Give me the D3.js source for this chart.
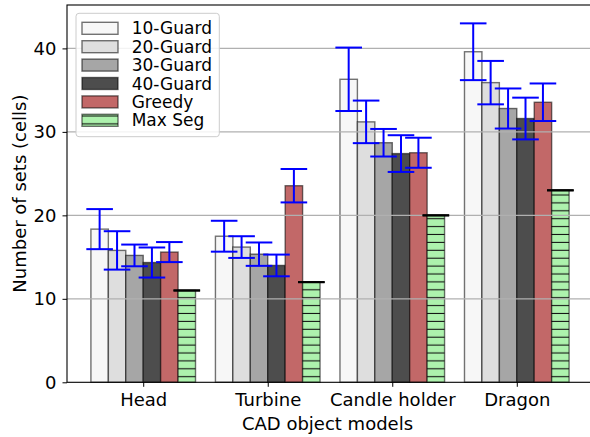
<!DOCTYPE html>
<html><head><meta charset="utf-8">
<script src="https://cdn.jsdelivr.net/npm/d3@7"></script>
<style>body{margin:0;background:#fff}svg{display:block;font-family:"DejaVu Sans",sans-serif}svg text{font-family:"DejaVu Sans",sans-serif}</style>
</head><body>
<svg id="c" width="590" height="437"></svg>
<script>
const categories = ["Head", "Turbine", "Candle holder", "Dragon"];
const seriesNames = ["10-Guard", "20-Guard", "30-Guard", "40-Guard", "Greedy", "Max Seg"];
const guard10 = [18.35, 17.5, 36.3, 39.6];
const guard20 = [15.8, 16.2, 31.2, 35.9];
const guard30 = [15.2, 15.35, 28.7, 32.8];
const guard40 = [14.35, 14.0, 27.4, 31.6];
const greedy = [15.6, 23.55, 27.5, 33.55];
const maxSeg = [11, 12, 20, 23];
const err10 = [2.4, 1.85, 3.8, 3.4];
const err20 = [2.3, 1.3, 2.55, 2.6];
const err30 = [1.3, 1.4, 1.65, 2.4];
const err40 = [1.8, 1.3, 2.2, 2.5];
const errGreedy = [1.2, 2.0, 1.8, 2.25];
const errMaxSeg = [0, 0, 0, 0];
const yTicks = [0, 10, 20, 30, 40];

const values = [guard10, guard20, guard30, guard40, greedy, maxSeg];
const errors = [err10, err20, err30, err40, errGreedy, errMaxSeg];
const fills = ["#f7f7f7", "#dedede", "#a6a6a6", "#4d4d4d", "#c26868", "#adf2ad"];
const errColors = ["#0000ff", "#0000ff", "#0000ff", "#0000ff", "#0000ff", "#000000"];
const barW = 0.14;
const FONT = "DejaVu Sans, sans-serif";

const svg = d3.select("#c");
const L = 67, R = 593, T = 5, B = 382.3;
const x = d3.scaleLinear().domain([-0.612, 3.612]).range([L, R]);
const y = d3.scaleLinear().domain([0, 45.2]).range([B, T]);

// hatch pattern
const defs = svg.append("defs");
const pat = defs.append("pattern").attr("id", "hatch").attr("patternUnits", "userSpaceOnUse")
  .attr("width", 10).attr("height", 7.9);
pat.append("rect").attr("width", 10).attr("height", 7.9).attr("fill", fills[5]);
pat.append("line").attr("x1", 0).attr("x2", 10).attr("y1", 5.4).attr("y2", 5.4)
  .attr("stroke", "#111").attr("stroke-width", 1.1);

// bars
const data = [];
seriesNames.forEach((s, i) => categories.forEach((c, j) => {
  data.push({s: i, c: j, v: values[i][j], e: errors[i][j]});
}));

svg.append("g").selectAll("rect").data(data).join("rect")
  .attr("x", d => x(d.c + (d.s - 3) * barW))
  .attr("width", d => x(barW) - x(0))
  .attr("y", d => y(d.v))
  .attr("height", d => y(0) - y(d.v))
  .attr("fill", d => d.s === 5 ? "url(#hatch)" : fills[d.s])
  .attr("stroke", "rgba(0,0,0,0.55)")
  .attr("stroke-width", 1.4);

// grid on top of bars
svg.append("g").selectAll("line").data(yTicks.slice(1)).join("line")
  .attr("x1", L).attr("x2", R).attr("y1", d => y(d)).attr("y2", d => y(d))
  .attr("stroke", "#b0b0b0").attr("stroke-width", 1.1);

// error bars
const eg = svg.append("g");
data.forEach(d => {
  const cx = x(d.c + (d.s - 2.5) * barW);
  const col = errColors[d.s];
  const capHalf = 13.3;
  if (d.e > 0) {
    eg.append("line").attr("x1", cx).attr("x2", cx).attr("y1", y(d.v - d.e)).attr("y2", y(d.v + d.e))
      .attr("stroke", col).attr("stroke-width", 2);
  }
  [d.v - d.e, d.v + d.e].forEach(v => {
    eg.append("line").attr("x1", cx - capHalf).attr("x2", cx + capHalf).attr("y1", y(v)).attr("y2", y(v))
      .attr("stroke", col).attr("stroke-width", 2);
  });
});

// axes
const xAxis = d3.axisBottom(x).tickValues([0, 1, 2, 3]).tickFormat(i => categories[i]).tickSize(4.5).tickPadding(6);
const gx = svg.append("g").attr("transform", `translate(0,${B})`).call(xAxis)
  .attr("font-family", FONT).attr("font-size", 18);
gx.select(".domain").remove();
gx.selectAll("text").attr("font-size", 18).attr("fill", "#000").attr("dy", "0.71em");
gx.selectAll("line").attr("stroke", "#000");

const yAxis = d3.axisLeft(y).tickValues(yTicks).tickSize(4.5).tickPadding(6);
const gy = svg.append("g").attr("transform", `translate(${L},0)`).call(yAxis)
  .attr("font-family", FONT).attr("font-size", 18);
gy.select(".domain").remove();
gy.selectAll("text").attr("font-size", 18).attr("fill", "#000");
gy.selectAll("line").attr("stroke", "#000");

// spines
svg.append("rect").attr("x", L).attr("y", T).attr("width", R - L).attr("height", B - T)
  .attr("fill", "none").attr("stroke", "#000").attr("stroke-width", 1.1);

// axis labels
svg.append("text").attr("x", (L + 588) / 2).attr("y", 430).attr("text-anchor", "middle")
  .attr("font-family", FONT).attr("font-size", 18).text("CAD object models");
svg.append("text").attr("transform", `translate(26,${(T + B) / 2}) rotate(-90)`).attr("text-anchor", "middle")
  .attr("font-family", FONT).attr("font-size", 18).text("Number of sets (cells)");

// legend
const lg = svg.append("g");
lg.append("rect").attr("x", 76).attr("y", 13.3).attr("width", 143.3).attr("height", 123.4).attr("rx", 3)
  .attr("fill", "rgba(255,255,255,0.85)").attr("stroke", "#cccccc").attr("stroke-width", 1);
seriesNames.forEach((s, i) => {
  const cy = 28.3 + i * 18.4;
  lg.append("rect").attr("x", 82).attr("y", cy - 6).attr("width", 36).attr("height", 12)
    .attr("fill", i === 5 ? "url(#hatch)" : fills[i]).attr("stroke", "rgba(0,0,0,0.55)").attr("stroke-width", 1.4);
  lg.append("text").attr("x", 131.7).attr("y", cy + 6).attr("font-family", FONT).attr("font-size", 17).text(s);
});
</script>
</body></html>
